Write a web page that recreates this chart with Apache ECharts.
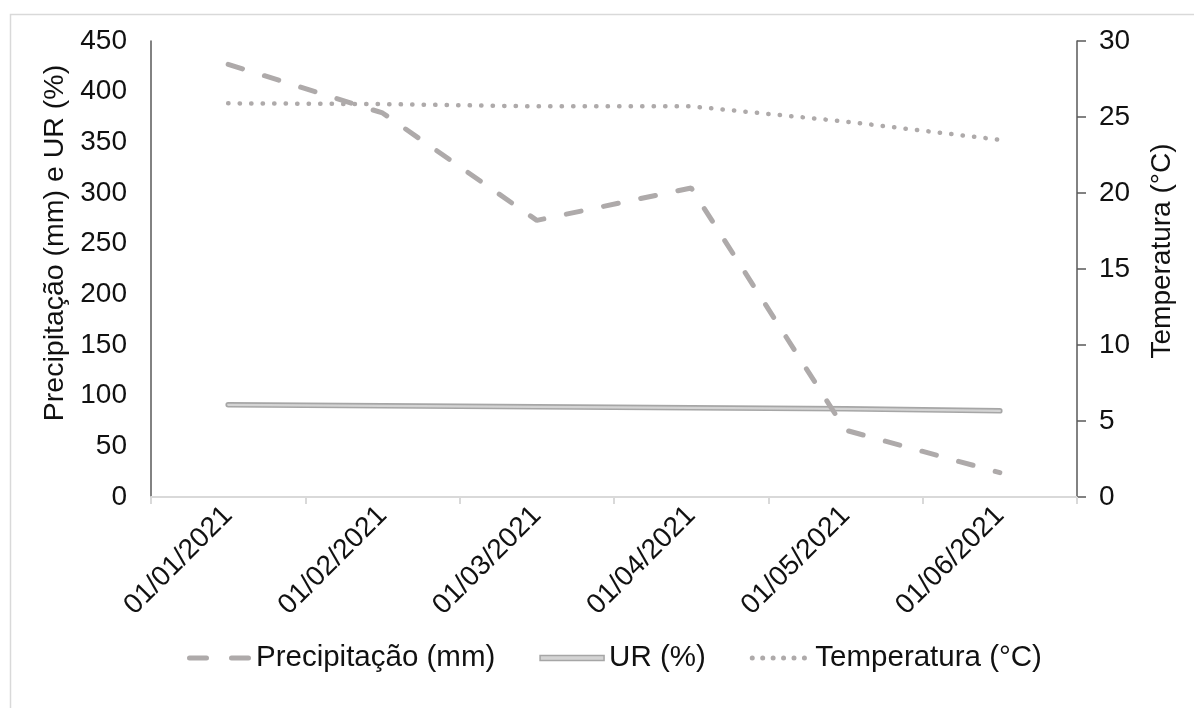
<!DOCTYPE html>
<html>
<head>
<meta charset="utf-8">
<script src="https://cdn.jsdelivr.net/npm/echarts@6/dist/echarts.min.js"></script>
<style>
html,body{margin:0;padding:0;background:#fff;}
#chart{width:1194px;height:708px;}
</style>
</head>
<body>
<div id="chart"></div>
<script>
const categories = ['01/01/2021','01/02/2021','01/03/2021','01/04/2021','01/05/2021','01/06/2021'];
const precipitacao = [427, 379, 273, 305, 66, 24];
const ur = [91, 90, 89, 88, 87, 85];
const temperatura = [25.9, 25.85, 25.7, 25.7, 24.7, 23.5];
const leftAxis = {min: 0, max: 450, interval: 50};
const rightAxis = {min: 0, max: 30, interval: 5};
const names = {precip: 'Precipitação (mm)', ur: 'UR (%)', temp: 'Temperatura (°C)'};
const axisNames = {left: 'Precipitação (mm) e UR (%)', right: 'Temperatura (°C)'};

const FONT = 'Liberation Sans, Arial, sans-serif';
const TXT = '#111';
const GRAY = '#aeaaaa';

// legend icon paths (styling only)
function roundSeg(x0, x1, h) {
  const r = h / 2;
  return 'M' + (x0 + r) + ',0H' + (x1 - r) + 'A' + r + ',' + r + ' 0 0 1 ' + (x1 - r) + ',' + h +
         'H' + (x0 + r) + 'A' + r + ',' + r + ' 0 0 1 ' + (x0 + r) + ',0Z';
}
const dashIcon = 'path://' + roundSeg(0, 22, 5) + roundSeg(42, 64, 5);
let dotPath = '';
for (let i = 0; i < 6; i++) {
  const cx = 2.5 + i * 9.6, r = 2.3;
  dotPath += 'M' + (cx - r) + ',2.5a' + r + ',' + r + ' 0 1,0 ' + (2 * r) + ',0a' + r + ',' + r + ' 0 1,0 ' + (-2 * r) + ',0Z';
}
const dotIcon = 'path://' + dotPath;
const urIcon = 'path://M0,0H64V5H0Z';

const chart = echarts.init(document.getElementById('chart'));
chart.setOption({
  animation: false,
  backgroundColor: '#fff',
  textStyle: {fontFamily: FONT},
  graphic: [{
    type: 'rect', left: 8, top: 12, silent: true,
    shape: {width: 1200, height: 720},
    style: {fill: 'none', stroke: '#d9d9d9', lineWidth: 1.5}
  }],
  grid: {left: 151, right: 117, top: 41, bottom: 211, containLabel: false},
  legend: {
    left: 182, top: 638,
    itemWidth: 64, itemHeight: 5, itemGap: 44,
    textStyle: {fontSize: 29.5, color: TXT, fontFamily: FONT},
    data: [
      {name: names.precip, icon: dashIcon, itemStyle: {color: GRAY, borderWidth: 0}},
      {name: names.ur, icon: urIcon, itemStyle: {color: '#d4d4d4', borderColor: '#a6a6a6', borderWidth: 1.5}},
      {name: names.temp, icon: dotIcon, itemStyle: {color: GRAY, borderWidth: 0}}
    ]
  },
  xAxis: {
    type: 'category', data: categories, boundaryGap: true,
    axisLine: {show: true, lineStyle: {color: '#d9d9d9', width: 2}},
    axisTick: {show: true, length: 7, lineStyle: {color: '#d9d9d9', width: 2}},
    axisLabel: {rotate: 45, fontSize: 28, color: TXT, margin: 14, fontFamily: FONT, interval: 0},
    splitLine: {show: false}
  },
  yAxis: [{
    type: 'value', min: leftAxis.min, max: leftAxis.max, interval: leftAxis.interval,
    name: axisNames.left, nameLocation: 'middle', nameGap: 77,
    nameTextStyle: {fontSize: 28.5, color: TXT, fontFamily: FONT, padding: [0, 0, 0, 52]},
    axisLine: {show: true, lineStyle: {color: '#595959', width: 1.5}},
    axisTick: {show: false},
    axisLabel: {fontSize: 28, color: TXT, margin: 24, fontFamily: FONT},
    splitLine: {show: false}
  }, {
    type: 'value', min: rightAxis.min, max: rightAxis.max, interval: rightAxis.interval,
    position: 'right',
    name: axisNames.right, nameLocation: 'middle', nameGap: 71,
    nameTextStyle: {fontSize: 28, color: TXT, fontFamily: FONT, padding: [0, 0, 0, 36]},
    axisLine: {show: true, lineStyle: {color: '#595959', width: 1.5}},
    axisTick: {show: true, inside: false, length: 9, lineStyle: {color: '#595959', width: 1.5}},
    axisLabel: {fontSize: 28, color: TXT, margin: 22, fontFamily: FONT},
    splitLine: {show: false}
  }],
  series: [{
    name: names.ur, type: 'line', yAxisIndex: 0, data: ur,
    symbol: 'none', smooth: false,
    itemStyle: {color: '#a6a6a6'},
    lineStyle: {color: '#a6a6a6', width: 5.5, cap: 'round'},
    z: 2
  }, {
    name: '_ur_inner', type: 'line', yAxisIndex: 0, data: ur,
    symbol: 'none', smooth: false, legendHoverLink: false,
    itemStyle: {color: '#d4d4d4'},
    lineStyle: {color: '#d4d4d4', width: 2.2, cap: 'round'},
    z: 3
  }, {
    name: names.temp, type: 'line', yAxisIndex: 1, data: temperatura,
    symbol: 'none', smooth: false,
    itemStyle: {color: GRAY},
    lineStyle: {color: GRAY, width: 4.5, type: [0.3, 11.2], cap: 'round'},
    z: 4
  }, {
    name: names.precip, type: 'line', yAxisIndex: 0, data: precipitacao,
    symbol: 'none', smooth: false,
    itemStyle: {color: GRAY},
    lineStyle: {color: GRAY, width: 5, type: [15, 23], cap: 'round'},
    z: 5
  }]
});
</script>
</body>
</html>
